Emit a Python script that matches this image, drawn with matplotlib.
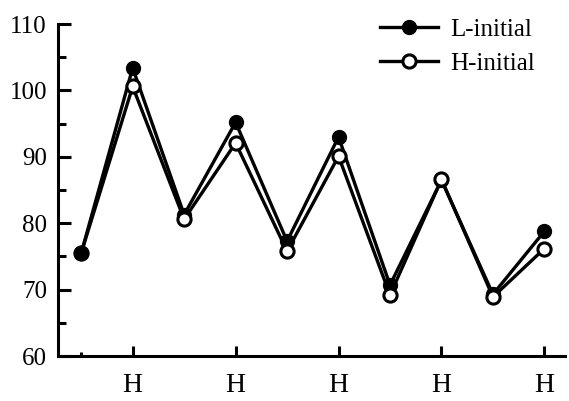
import matplotlib.pyplot as plt
from matplotlib.ticker import MultipleLocator

# Ten successive trials; H trials fall on every second position
trials = list(range(10))
l_initial = [75.5, 103.4, 81.3, 95.2, 77.3, 93.0, 70.7, 86.5, 69.3, 78.8]
h_initial = [75.5, 100.6, 80.6, 92.1, 75.8, 90.1, 69.2, 86.6, 68.9, 76.2]
h_ticks = [1, 3, 5, 7, 9]
h_labels = ['H'] * len(h_ticks)

plt.rcParams['font.family'] = ['Liberation Serif', 'DejaVu Serif']

fig = plt.figure(figsize=(5.69, 4.01), dpi=100)
ax = fig.add_axes([0.102, 0.112, 0.891, 0.828])

ax.plot(trials, l_initial, color='black', lw=2.4, marker='o', ms=10,
        mfc='black', mec='black', label='L-initial', zorder=3)
ax.plot(trials, h_initial, color='black', lw=2.4, marker='o', ms=9.5,
        mfc='white', mec='black', mew=2.2, label='H-initial', zorder=4)
# shared starting point shows the filled marker on top
ax.plot(trials[:1], l_initial[:1], ls='none', marker='o', ms=10,
        mfc='black', mec='black', zorder=5)

ax.set_ylim(60, 110)
ax.set_xlim(-0.45, 9.4)
ax.yaxis.set_major_locator(MultipleLocator(10))
ax.yaxis.set_minor_locator(MultipleLocator(5))
ax.set_xticks(h_ticks)
ax.set_xticklabels(h_labels)
ax.set_xticks([0], minor=True)

for side in ['top', 'right']:
    ax.spines[side].set_visible(False)
for side in ['left', 'bottom']:
    ax.spines[side].set_linewidth(2.2)

ax.tick_params(axis='both', which='major', direction='in', length=9,
               width=2.2, labelsize=18, pad=8)
ax.tick_params(axis='both', which='minor', direction='in', length=6,
               width=2.2)
ax.tick_params(axis='x', which='major', length=7, labelsize=20, pad=12)
ax.tick_params(axis='x', which='minor', length=3)

leg = ax.legend(loc='upper right', bbox_to_anchor=(0.985, 1.085), frameon=False,
                fontsize=18, handlelength=2.3, handletextpad=0.5,
                labelspacing=0.45)

fig.savefig('out.png', dpi=100)
